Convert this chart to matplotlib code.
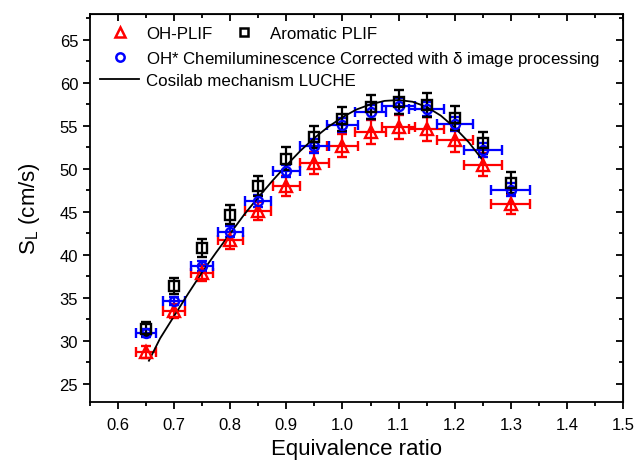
import matplotlib
matplotlib.use("Agg")
import matplotlib.pyplot as plt
import numpy as np
from matplotlib.ticker import MultipleLocator
from matplotlib.lines import Line2D

plt.rcParams['font.family'] = ['Liberation Sans', 'DejaVu Sans']
plt.rcParams['mathtext.fontset'] = 'custom'
plt.rcParams['mathtext.rm'] = 'Liberation Sans'
plt.rcParams['mathtext.it'] = 'Liberation Sans'

phi = [0.65, 0.70, 0.75, 0.80, 0.85, 0.90, 0.95, 1.00, 1.05, 1.10, 1.15, 1.20, 1.25, 1.30]

# OH-PLIF (red triangles)
oh_plif = [28.7, 33.5, 37.9, 41.7, 45.1, 48.0, 50.7, 52.7, 54.3, 54.9, 54.65, 53.3, 50.5, 45.9]
oh_plif_yerr = [0.7, 0.8, 0.9, 1.0, 1.1, 1.2, 1.3, 1.3, 1.4, 1.4, 1.4, 1.3, 1.3, 1.1]
oh_plif_xerr = [0.018, 0.019, 0.020, 0.022, 0.023, 0.024, 0.026, 0.027, 0.028, 0.030, 0.031, 0.032, 0.034, 0.035]

# Aromatic PLIF (black squares)
arom = [31.4, 36.4, 40.8, 44.65, 48.0, 51.2, 53.7, 55.8, 57.2, 57.8, 57.4, 55.9, 53.0, 48.4]
arom_yerr = [0.8, 0.9, 1.0, 1.1, 1.2, 1.3, 1.3, 1.4, 1.4, 1.4, 1.4, 1.4, 1.3, 1.2]

# OH* chemiluminescence (blue circles)
oh_star = [30.9, 34.65, 38.7, 42.7, 46.3, 49.8, 52.7, 55.1, 56.6, 57.3, 57.0, 55.2, 52.2, 47.6]
oh_star_yerr = [0.5, 0.5, 0.6, 0.6, 0.7, 0.7, 0.8, 0.8, 0.8, 0.9, 0.8, 0.8, 0.8, 0.7]
oh_star_xerr = [0.018, 0.019, 0.020, 0.022, 0.023, 0.024, 0.026, 0.027, 0.028, 0.030, 0.031, 0.032, 0.034, 0.035]

# Cosilab mechanism LUCHE
sim_phi = [0.655, 0.675, 0.70, 0.725, 0.75, 0.775, 0.80, 0.825, 0.85, 0.875, 0.90, 0.925,
           0.95, 0.975, 1.00, 1.025, 1.05, 1.075, 1.10, 1.125, 1.15, 1.175, 1.20, 1.225, 1.25]
sim_sl = [27.7, 30.3, 32.9, 35.5, 38.0, 40.3, 42.5, 44.7, 46.7, 48.6, 50.4, 52.1,
          53.6, 54.9, 56.0, 56.9, 57.5, 57.9, 58.0, 57.8, 57.2, 56.2, 54.8, 53.1, 51.0]

fig = plt.figure(figsize=(6.38, 4.64), dpi=100)
ax = fig.add_axes([90/638, 61/464, 533/638, 388/464])

eb = dict(elinewidth=1.6, capsize=3.5, capthick=1.6, mfc='none', mew=1.7, ls='none')
ax.errorbar(phi, oh_plif, yerr=oh_plif_yerr, xerr=oh_plif_xerr, fmt='^', ms=8,
            color='red', **eb)
ax.errorbar(phi, oh_star, yerr=oh_star_yerr, xerr=oh_star_xerr, fmt='o', ms=6.5,
            color='blue', **eb)
ax.errorbar(phi, arom, yerr=arom_yerr, fmt='s', ms=7, color='black', **eb)
ax.plot(sim_phi, sim_sl, color='black', lw=1.3)

ax.set_xlim(0.55, 1.5)
ax.set_ylim(22.9, 68.0)
ax.xaxis.set_major_locator(MultipleLocator(0.1))
ax.xaxis.set_minor_locator(MultipleLocator(0.05))
ax.yaxis.set_major_locator(MultipleLocator(5))
ax.yaxis.set_minor_locator(MultipleLocator(2.5))
ax.xaxis.set_major_formatter(matplotlib.ticker.FormatStrFormatter('%.1f'))
ax.tick_params(which='both', direction='out', width=1.3, labelsize=12)
ax.tick_params(axis='x', pad=6)
ax.tick_params(which='major', length=5)
ax.tick_params(which='minor', length=3)
for s in ax.spines.values():
    s.set_linewidth(1.3)

top = ax.secondary_xaxis('top')
top.xaxis.set_major_locator(MultipleLocator(0.1))
top.xaxis.set_minor_locator(MultipleLocator(0.05))
top.tick_params(which='both', direction='in', width=1.3, labeltop=False)
top.tick_params(which='major', length=5)
top.tick_params(which='minor', length=3)
right = ax.secondary_yaxis('right')
right.yaxis.set_major_locator(MultipleLocator(5))
right.yaxis.set_minor_locator(MultipleLocator(2.5))
right.tick_params(which='both', direction='in', width=1.3, labelright=False)
right.tick_params(which='major', length=5)
right.tick_params(which='minor', length=3)

ax.set_xlabel('Equivalence ratio', fontsize=16, labelpad=4)
ax.set_ylabel(r'$\mathregular{S_L}$ (cm/s)', fontsize=16, labelpad=13)

mk = dict(ls='none', mfc='none', mew=1.8)
hr = Line2D([], [], marker='^', ms=7, color='red', **mk)
hb = Line2D([], [], marker='s', ms=6, color='black', **mk)
hc = Line2D([], [], marker='o', ms=6, color='blue', **mk)
hl = Line2D([], [], color='black', lw=1.3)

legkw = dict(frameon=False, fontsize=12.2, handlelength=2.3, handletextpad=0.42,
             borderpad=0, borderaxespad=0, loc='upper left')
leg1 = ax.legend([hr, hb], ['OH-PLIF', 'Aromatic PLIF'], ncol=2, columnspacing=0.7,
                 bbox_to_anchor=(0.019, 0.968), **legkw)
ax.add_artist(leg1)
ax.legend([hc, hl], [r'OH* Chemiluminescence Corrected with $\delta$ image processing',
                     'Cosilab mechanism LUCHE'],
          labelspacing=0.3, bbox_to_anchor=(0.019, 0.911), **legkw)

fig.savefig('out.png', dpi=100)
